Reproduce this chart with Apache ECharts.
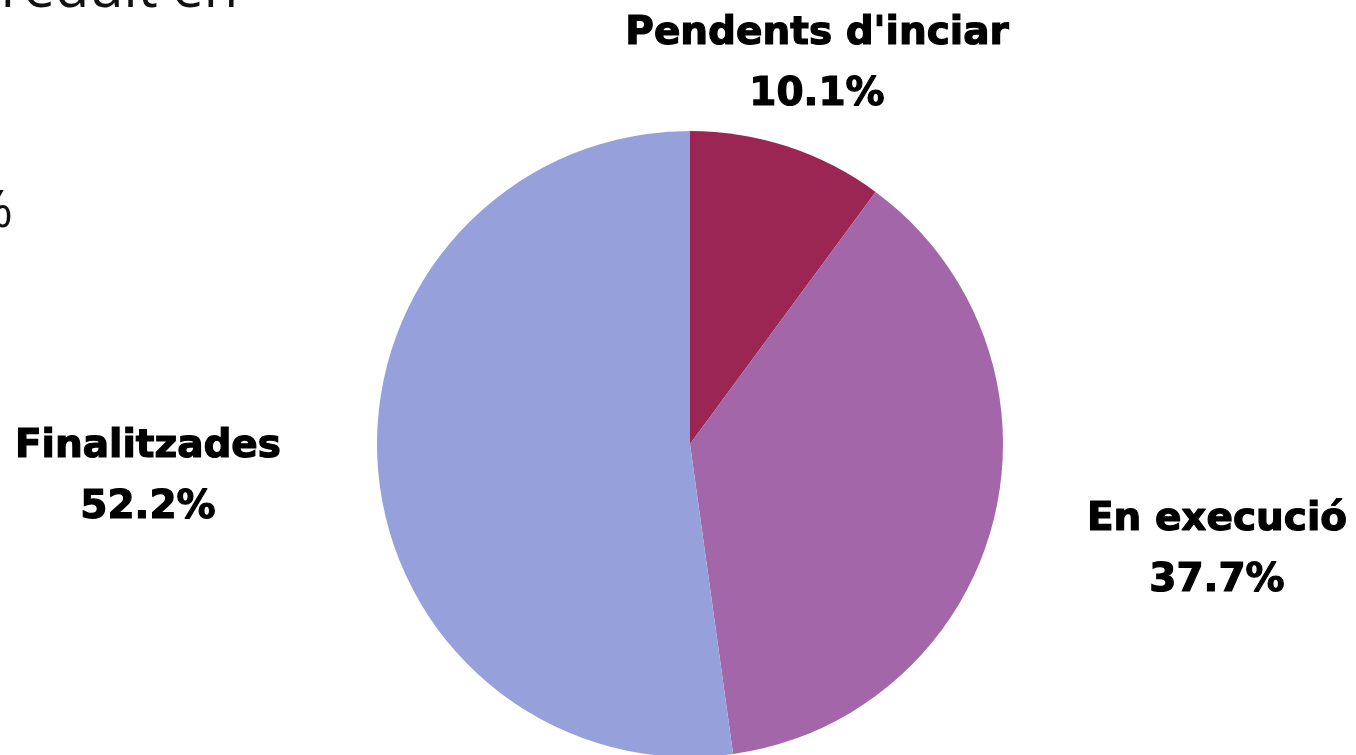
<!DOCTYPE html>
<html>
<head>
<meta charset="utf-8">
<script src="https://cdn.jsdelivr.net/npm/echarts@6/dist/echarts.min.js"></script>
<style>html,body{margin:0;padding:0;background:#fff;}#c{width:1356px;height:755px;}</style>
</head>
<body>
<div id="c"></div>
<script>
const categories = ["Pendents d'inciar", "En execució", "Finalitzades"];
const values = [10.1, 37.7, 52.2];
const colors = ['#9B2553', '#A366A8', '#96A1DB'];

const labelPos = [[817, 64], [1217, 550], [148, 477]];

const chart = echarts.init(document.getElementById('c'), null, {renderer: 'canvas'});
chart.setOption({
  animation: false,
  backgroundColor: '#ffffff',
  graphic: [
    {type: 'text', right: 1356 - 238, top: -37, style: {text: 'reduit en', font: '400 56px "Open Sans"', fill: '#111'}},
    {type: 'text', right: 1356 - 13, top: 186, style: {text: '%', font: '400 52px "Open Sans"', fill: '#111'}}
  ],
  series: [{
    type: 'pie',
    center: [690, 444],
    radius: [0, 313],
    startAngle: 90,
    clockwise: true,
    data: categories.map((n, i) => ({name: n, value: values[i], itemStyle: {color: colors[i]}})),
    label: {
      show: true,
      position: 'outside',
      formatter: p => p.name + '\n' + p.value.toFixed(1) + '%',
      fontFamily: 'DejaVu Sans',
      fontWeight: 'bold',
      fontSize: 39,
      lineHeight: 61,
      color: '#000',
      textBorderColor: '#000',
      textBorderWidth: 1.2,
      align: 'center'
    },
    labelLine: {show: false},
    labelLayout: p => ({x: labelPos[p.dataIndex][0], y: labelPos[p.dataIndex][1], align: 'center', verticalAlign: 'middle'})
  }]
});
</script>
</body>
</html>
